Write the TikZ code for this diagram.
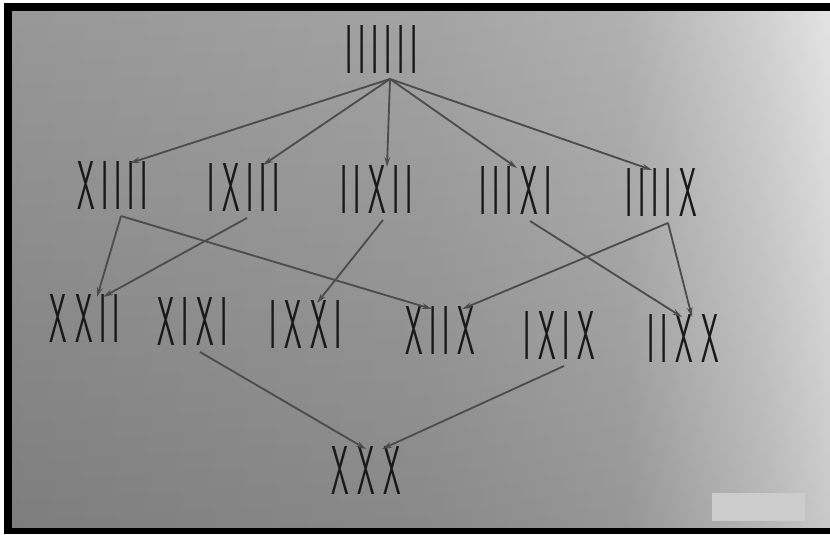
\documentclass[tikz,border=0pt]{standalone}
\usepackage{graphicx}
\usepackage{tikz}
\usetikzlibrary{arrows.meta}

\definecolor{ink}{gray}{0.1}
\definecolor{linkgray}{gray}{0.3}
\definecolor{pageA}{gray}{0.55}
\definecolor{pageB}{gray}{0.60}
\definecolor{pageC}{gray}{0.66}
\definecolor{pageD}{gray}{0.80}
\definecolor{pageE}{gray}{0.88}
\definecolor{patch}{gray}{0.80}

% page gets lighter towards the right edge
\pgfdeclarehorizontalshading{pageshade}{100bp}{color(0bp)=(pageA); color(25bp)=(pageA); color(50bp)=(pageB); color(62.5bp)=(pageC); color(71bp)=(pageD); color(75bp)=(pageE); color(100bp)=(pageE)}

% tall strokes, one box per letter
\newlength\tallyI \setlength\tallyI{3.25mm}
\newlength\tallyX \setlength\tallyX{6.5mm}
\makeatletter
\def\tallyXchar{X}
\newcommand\tally[1]{\scalebox{1.2}[2.95]{\fontsize{20}{20}\selectfont\sffamily\@tfor\tallyc:=#1\do{\ifx\tallyc\tallyXchar\makebox[\tallyX]{X}\else\makebox[\tallyI]{I}\fi}}}
\makeatother

\tikzset{
	seq/.style={inner sep=0pt, outer sep=0pt, text=ink},
	link/.style={draw=linkgray, line width=0.55mm, -{Stealth[length=3mm,width=1.7mm]}}
}

\begin{document}
\begin{tikzpicture}[x=0.3mm, y=-0.3mm]
	\useasboundingbox (0,0) rectangle (830,534);
	
	% Photo frame and page
	\fill[white] (0,0) rectangle (830,534);
	\fill[black] (4,3) rectangle (830,534);
	\shade[shading=pageshade] (12,11) rectangle (830,527);
	\shade[top color=white, bottom color=black, fill opacity=0.1] (12,11) rectangle (830,527);
	\fill[patch] (712,493) rectangle (805,521);
	
	% Top
	\node[seq] (top) at (382,50) {\tally{IIIIII}};
	
	% Second row
	\node[seq] (xiiii) at (112,186) {\tally{XIIII}};
	\node[seq] (ixiii) at (244,188) {\tally{IXIII}};
	\node[seq] (iixii) at (377,190) {\tally{IIXII}};
	\node[seq] (iiixi) at (516,191) {\tally{IIIXI}};
	\node[seq] (iiiix) at (662,193) {\tally{IIIIX}};
	
	% Third row
	\node[seq] (xxii) at (84,319) {\tally{XXII}};
	\node[seq] (xixi) at (192,322) {\tally{XIXI}};
	\node[seq] (ixxi) at (306,325) {\tally{IXXI}};
	\node[seq] (xiix) at (440,331) {\tally{XIIX}};
	\node[seq] (ixix) at (560,336) {\tally{IXIX}};
	\node[seq] (iixx) at (684,339) {\tally{IIXX}};
	
	% Bottom
	\node[seq] (xxx) at (366,471) {\tally{XXX}};
	
	% Arrows from the top
	\foreach \n/\d in {xiiii/18, ixiii/19, iixii/10, iiixi/1, iiiix/-10} {
		\draw[link] ([shift={(8,5)}]top.south) -- ([shift={(\d,1)}]\n.north);
	}
	
	% Arrows between the lower rows
	\foreach \a/\sa/\b/\eb in {xiiii/9/xxii/13, xiiii/9/xiix/-8, ixiii/3/xxii/19, iixii/6/ixxi/11, iiixi/14/iixx/-2, iiiix/6/xiix/22, iiiix/6/iixx/8, xixi/8/xxx/0, ixix/4/xxx/16} {
		\draw[link] ([shift={(\sa,6)}]\a.south) -- ([shift={(\eb,2)}]\b.north);
	}
	
\end{tikzpicture}
\end{document}
